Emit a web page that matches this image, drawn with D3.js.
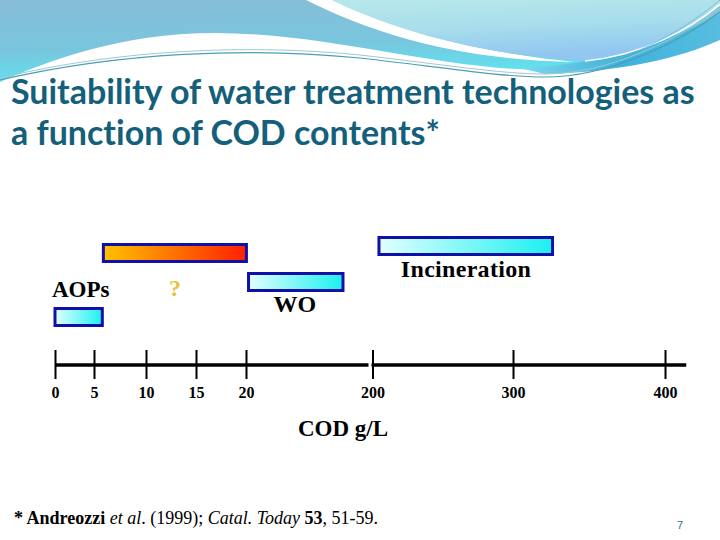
<!DOCTYPE html>
<html><head><meta charset="utf-8">
<script src="https://cdn.jsdelivr.net/npm/d3@7/dist/d3.min.js"></script>
<style>body{margin:0;background:#fff} svg{display:block} text{font-variant-ligatures:none}</style>
</head><body><svg id="c" width="720" height="540"></svg>
<script>
// ---- data ----
const technologies = ["Incineration", "?", "WO", "AOPs"];
const rangeStart   = [204.6, 5.9, 23.6, 0];
const rangeEnd     = [326, 20.6, 158, 5.8];
const tickValues   = [0, 5, 10, 15, 20, 200, 300, 400];
const tickLabels   = ["0", "5", "10", "15", "20", "200", "300", "400"];
const axisSegments = [[0, 194.3], [198.6, 414]];
const axisTitle    = "COD g/L";
const titleLines   = ["Suitability of water treatment technologies as", "a function of COD contents*"];

const svg = d3.select("#c");
const defs = svg.append("defs");

// ---- header decoration ----
function lg(id, x1, y1, x2, y2, stops) {
  const g = defs.append("linearGradient").attr("id", id)
    .attr("x1", x1).attr("y1", y1).attr("x2", x2).attr("y2", y2);
  stops.forEach(s => g.append("stop").attr("offset", s[0]).attr("stop-color", s[1]));
}
lg("hdrBlue", 0, 0, 0.25, 1, [[0, "#88bdd6"], [0.6, "#78c6de"], [1, "#5ee4f0"]]);
lg("hdrPale", 0, 0, 0.3, 1, [[0, "#b8e8ea"], [0.5, "#a8deec"], [1, "#90c6f0"]]);
lg("hdrStripe", 0, 0, 1, 0, [[0, "#7fd8ec"], [0.5, "#3eb2dc"], [1, "#58bde0"]]);
lg("cyanBar", 0, 0, 1, 0, [[0, "#e2ffff"], [1, "#1cf0f0"]]);
lg("orangeBar", 0, 0, 1, 0, [[0, "#ffc200"], [1, "#ff2000"]]);

const hdr = svg.append("g");
hdr.append("path").attr("fill", "url(#hdrBlue)")
  .attr("d", "M0,0 H720 V18 C680,40 620,68 545,70 C440,70 330,33 215,33 C120,33 45,62 0,82 Z");
hdr.append("path").attr("fill", "url(#hdrStripe)")
  .attr("d", "M520,68 C600,66 670,40 720,14 V40 C680,58 620,72 545,74 Z");
hdr.append("path").attr("fill", "#ffffff")
  .attr("d", "M306,0 L332,0 C385,25 460,50 575,62 C455,60 370,32 306,0 Z");
hdr.append("path").attr("fill", "url(#hdrPale)")
  .attr("d", "M332,0 H720 V6 C690,30 640,56 585,61 C470,54 390,28 332,0 Z");
hdr.append("path").attr("fill", "none").attr("stroke", "#ffffff").attr("stroke-width", 1.5)
  .attr("d", "M585,61 C640,56 690,30 720,4");
hdr.append("path").attr("fill", "none").attr("stroke", "#4b9fb2").attr("stroke-width", 1.2)
  .attr("d", "M0,80 C120,52 250,47 360,58 C440,67 500,77 545,77 C610,77 680,42 720,12");
hdr.append("path").attr("fill", "none").attr("stroke", "#9fc9d2").attr("stroke-width", 1)
  .attr("d", "M0,78 C120,49 250,44 360,55 C440,64 500,74 545,74 C610,74 680,38 720,8");
hdr.append("path").attr("fill", "none").attr("stroke", "#6fb6c8").attr("stroke-width", 0.8)
  .attr("d", "M600,64 C650,50 690,25 720,0");

// ---- title ----
const titleG = svg.append("g").attr("font-family", "Lato, 'Open Sans', sans-serif")
  .attr("font-weight", "bold").attr("fill", "#14607a");
const t1 = titleG.append("text").attr("x", 11).attr("y", 104).attr("font-size", 28).text(titleLines[0]);
const w1 = t1.node().getComputedTextLength();
const fs = 28 * 684 / w1;
t1.attr("font-size", fs);
titleG.append("text").attr("x", 11).attr("y", 145).attr("font-size", fs).text(titleLines[1]);

// ---- scales ----
const x = d3.scaleLinear().domain(tickValues).range([55, 94, 146, 196, 246, 372.5, 513, 665]);
const y = d3.scaleOrdinal().domain(technologies).range([237.5, 244.5, 273.5, 308.5]);
const barH = 17;

// ---- bars ----
const bars = technologies.map((t, i) => ({ name: t, x0: rangeStart[i], x1: rangeEnd[i] }));
svg.append("g").selectAll("rect").data(bars).join("rect")
  .attr("x", d => x(d.x0)).attr("y", d => y(d.name))
  .attr("width", d => x(d.x1) - x(d.x0)).attr("height", barH)
  .attr("fill", d => d.name === "?" ? "url(#orangeBar)" : "url(#cyanBar)")
  .attr("stroke", "#1010a8").attr("stroke-width", 3);

// ---- bar labels ----
const serif = "'Liberation Serif', 'Times New Roman', serif";
const lab = svg.append("g").attr("font-family", serif).attr("font-size", 24).attr("font-weight", "bold");
lab.append("text").attr("x", 52).attr("y", 297).attr("font-size", 23).text("AOPs");
lab.append("text").attr("x", 175).attr("y", 296).attr("text-anchor", "middle")
  .attr("fill", "#ebc03c").text("?");
lab.append("text").attr("x", (x(rangeStart[2]) + x(rangeEnd[2])) / 2 - 1).attr("y", 312)
  .attr("text-anchor", "middle").text("WO");
lab.append("text").attr("x", 466).attr("y", 277).attr("text-anchor", "middle")
  .attr("letter-spacing", 0.3).text("Incineration");

// ---- axis ----
const axisG = svg.append("g").attr("transform", "translate(0,350)");
axisG.call(d3.axisBottom(x).tickValues(tickValues).tickFormat((d, i) => tickLabels[i])
  .tickSize(29).tickPadding(8));
axisG.select(".domain").remove();
axisG.selectAll(".tick line").attr("stroke", "#000").attr("stroke-width", 2);
axisG.selectAll(".tick text").attr("font-family", serif).attr("font-weight", "bold")
  .attr("font-size", 16).attr("fill", "#000");
svg.append("g").selectAll("line").data(axisSegments).join("line")
  .attr("x1", d => x(d[0])).attr("x2", d => x(d[1]))
  .attr("y1", 365).attr("y2", 365)
  .attr("stroke", "#000").attr("stroke-width", 3.5);

svg.append("text").attr("x", 343).attr("y", 436).attr("text-anchor", "middle")
  .attr("font-family", serif).attr("font-size", 23).attr("font-weight", "bold")
  .text(axisTitle);

// ---- footnote ----
const fn = svg.append("text").attr("x", 14).attr("y", 524)
  .attr("font-family", serif).attr("font-size", 18);
[["* Andreozzi", "bold", "normal"], [" et al", "normal", "italic"], [". (1999); ", "normal", "normal"],
 ["Catal. Today", "normal", "italic"], [" 53", "bold", "normal"], [", 51-59.", "normal", "normal"]]
  .forEach(p => fn.append("tspan").attr("font-weight", p[1]).attr("font-style", p[2]).text(p[0]));

svg.append("text").attr("x", 680).attr("y", 529).attr("text-anchor", "middle")
  .attr("font-family", "'Liberation Sans', Arial, sans-serif").attr("font-size", 11)
  .attr("fill", "#2f6d80").text("7");
</script></body></html>
